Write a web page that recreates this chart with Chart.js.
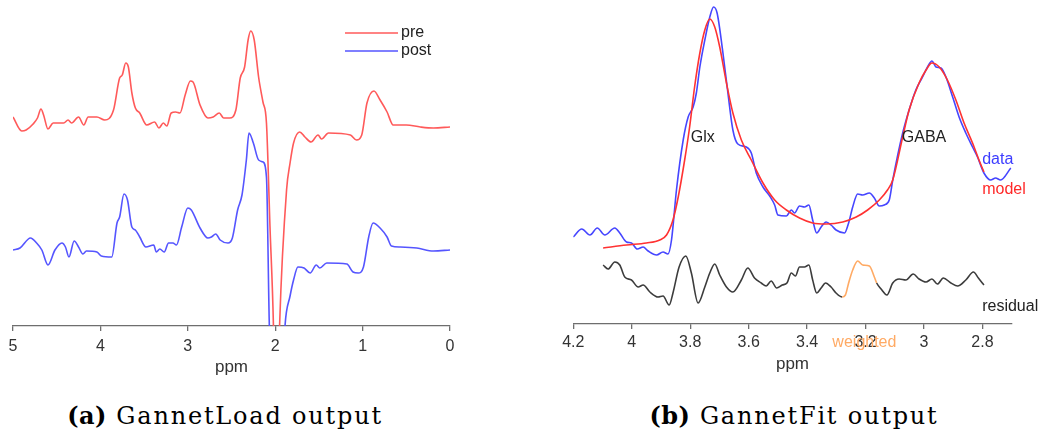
<!DOCTYPE html>
<html><head><meta charset="utf-8">
<script src="https://cdn.jsdelivr.net/npm/chart.js@4.4.1/dist/chart.umd.min.js"></script>
<style>
html,body{margin:0;padding:0;background:#fff;width:1044px;height:444px;overflow:hidden;position:relative;}
#cA{position:absolute;left:0;top:0;}
#cB{position:absolute;left:540px;top:0;}
.cap{position:absolute;top:404px;font-family:"DejaVu Serif",serif;font-size:24px;line-height:24px;letter-spacing:1.8px;color:#000;white-space:nowrap;transform:translateX(-50%);}
.cap b{letter-spacing:0.5px;}
</style></head>
<body>
<canvas id="cA" width="470" height="390"></canvas>
<canvas id="cB" width="504" height="390"></canvas>
<div class="cap" style="left:225px"><b>(a)</b> GannetLoad output</div>
<div class="cap" style="left:794px"><b>(b)</b> GannetFit output</div>
<script>
// ---------- Panel (a): GannetLoad output ----------
const preLabel = 'pre';
const postLabel = 'post';
const prePpm = [5.00,4.90,4.85,4.77,4.72,4.68,4.65,4.60,4.54,4.42,4.37,4.33,4.25,4.19,4.14,4.04,3.95,3.85,3.78,3.75,3.71,3.68,3.64,3.60,3.55,3.47,3.38,3.33,3.28,3.24,3.19,3.14,3.09,3.03,2.97,2.94,2.86,2.77,2.71,2.64,2.59,2.52,2.45,2.40,2.35,2.31,2.28,2.24,2.19,2.14,2.10,2.06,2.02,1.99,1.95,1.87,1.83,1.79,1.72,1.66,1.59,1.51,1.47,1.39,1.14,1.07,1.01,0.95,0.87,0.80,0.72,0.65,0.50,0.34,0.19,0.00];
const preValues = [209,195,196,202,208,217,211,197,203,203,206,203,209,201,209,209,206,216,248,251,263,259,233,218,213,201,204,198,203,200,213,214,213,231,245,244,221,208,209,213,208,208,216,248,259,286,295,286,249,224,203,100,0,-150,0,136,163,183,194,189,184,191,187,193,191,186,191,223,235,226,214,201,201,199,198,199];
const postPpm = [5.00,4.92,4.80,4.73,4.67,4.60,4.52,4.44,4.40,4.36,4.30,4.25,4.20,4.16,4.04,3.99,3.87,3.81,3.78,3.73,3.69,3.64,3.60,3.55,3.48,3.39,3.36,3.32,3.27,3.22,3.17,3.13,3.07,3.00,2.96,2.86,2.77,2.73,2.68,2.63,2.54,2.49,2.43,2.38,2.33,2.30,2.25,2.19,2.14,2.10,2.067,2.00,1.93,1.888,1.83,1.79,1.74,1.67,1.60,1.53,1.49,1.41,1.18,1.11,1.05,0.99,0.93,0.88,0.80,0.72,0.67,0.57,0.38,0.19,0.00];
const postValues = [76,78,88,83,76,61,76,83,79,69,85,79,72,75,74,70,69,103,109,132,126,99,96,89,79,81,74,77,74,83,83,81,99,118,116,98,88,89,92,86,83,88,116,131,166,193,183,166,164,149,0,-150,-80,0,30,46,59,58,53,61,58,63,62,54,53,59,89,103,98,89,80,79,78,75,76];
const ticksA = [5,4,3,2,1,0];
const axisTitle = 'ppm';

// ---------- Panel (b): GannetFit output ----------
const dataLabel = 'data';
const modelLabel = 'model';
const residLabel = 'residual';
const weightedLabel = 'weighted';
const dataPpm = [4.200,4.171,4.143,4.118,4.092,4.058,4.041,4.018,4.001,3.981,3.961,3.944,3.915,3.893,3.876,3.864,3.847,3.824,3.807,3.790,3.779,3.767,3.750,3.733,3.720,3.708,3.688,3.671,3.654,3.637,3.608,3.591,3.574,3.551,3.528,3.511,3.500,3.471,3.454,3.443,3.426,3.409,3.394,3.381,3.367,3.352,3.335,3.318,3.301,3.272,3.258,3.244,3.227,3.210,3.187,3.170,3.153,3.136,3.119,3.107,3.073,3.051,3.028,3.005,2.988,2.973,2.959,2.942,2.925,2.902,2.880,2.857,2.834,2.817,2.795,2.772,2.755,2.738,2.703];
const dataValues = [87,95,89,96,89,96,91,82,81,75,77,73,69,72,70,84,134,184,207,217,231,257,284,307,317,311,271,231,194,180,177,171,151,137,128,119,109,108,114,111,118,117,119,104,91,97,102,99,94,91,101,117,130,129,131,126,118,119,124,144,191,214,234,247,257,263,257,256,247,227,207,191,177,167,151,144,146,144,156];
const modelPpm = [4.098,4.018,3.950,3.904,3.881,3.859,3.841,3.819,3.802,3.785,3.767,3.750,3.733,3.716,3.699,3.676,3.654,3.625,3.591,3.551,3.511,3.471,3.426,3.381,3.335,3.278,3.232,3.193,3.153,3.125,3.107,3.073,3.051,3.017,2.993,2.973,2.948,2.920,2.891,2.863,2.834,2.812,2.795];
const modelValues = [76,79,81,84,89,104,127,164,197,237,271,294,305,297,277,241,211,184,164,141,124,114,106,101,100,102,107,114,124,134,144,187,214,241,254,261,257,244,224,201,181,164,152];
const residPpm = [4.098,4.081,4.058,4.041,4.024,4.001,3.978,3.961,3.938,3.910,3.893,3.872,3.859,3.838,3.815,3.796,3.773,3.750,3.733,3.716,3.699,3.676,3.654,3.625,3.603,3.580,3.557,3.540,3.523,3.504,3.485,3.469,3.454,3.440,3.426,3.409,3.394,3.381,3.367,3.352,3.337,3.318,3.301,3.280,3.269,3.258,3.244,3.227,3.210,3.187,3.170,3.162,3.147,3.127,3.107,3.085,3.062,3.037,3.017,2.993,2.973,2.954,2.934,2.908,2.885,2.857,2.831,2.814,2.795];
const residValues = [59,55,62,59,47,44,37,39,32,27,28,19,31,57,68,51,21,37,51,60,49,37,32,44,56,46,41,38,43,36,39,41,51,48,57,57,59,44,31,36,41,37,31,27,29,41,54,63,59,58,47,41,35,29,41,45,44,50,45,42,45,40,46,41,38,44,52,46,39];
const weightedRange = [3.280, 3.162];
const ticksB = [4.2,4.0,3.8,3.6,3.4,3.2,3.0,2.8];
const peakLabels = ['Glx','GABA'];
const peakLabelPpm = [3.757, 3.0];

// ---------- helpers ----------
const FONT = '"Liberation Sans", Arial, Helvetica, sans-serif';
Chart.defaults.font.family = FONT;
Chart.defaults.font.size = 16;
const pts = (xs, ys) => xs.map((x, i) => ({x, y: ys[i]}));
const AXIS = '#6e6e6e', TXT = '#333333';

function xAxis(min, max, ticks, fmt, tickPad, titlePadBottom) {
  return {
    type: 'linear', reverse: true, min, max,
    afterBuildTicks: s => { s.ticks = ticks.map(v => ({value: v})); },
    afterFit: s => { s.height = 54; },
    grid: {drawOnChartArea: false, drawTicks: true, tickLength: 5, color: AXIS, lineWidth: 1.3},
    border: {display: true, color: AXIS, width: 1.3},
    ticks: {color: TXT, padding: tickPad, font: {size: 16}, maxRotation: 0, autoSkip: false, callback: fmt},
    title: {display: true, text: axisTitle, color: TXT, font: {size: 17}, padding: {top: 0, bottom: titlePadBottom}}
  };
}

const lineDs = (label, data, color, extra) => Object.assign({
  label, data, borderColor: color, borderWidth: 1.6, pointRadius: 0,
  cubicInterpolationMode: 'monotone', fill: false
}, extra || {});

// ---------- Chart A ----------
const legendA = {
  id: 'legendA',
  afterDraw(chart) {
    const c = chart.ctx;
    c.save();
    chart.data.datasets.forEach((ds, i) => {
      const y = 33 + i * 18;
      c.strokeStyle = ds.borderColor; c.lineWidth = 1.6;
      c.beginPath(); c.moveTo(345, y); c.lineTo(398, y); c.stroke();
      c.fillStyle = '#222'; c.font = '16px ' + FONT; c.textBaseline = 'middle'; c.textAlign = 'left';
      c.fillText(ds.label, 401, y);
    });
    c.restore();
  }
};

new Chart(document.getElementById('cA'), {
  type: 'line',
  data: {datasets: [
    lineDs(preLabel, pts(prePpm, preValues), 'rgb(255,90,90)'),
    lineDs(postLabel, pts(postPpm, postValues), 'rgb(85,85,255)')
  ]},
  options: {
    responsive: false, animation: false, devicePixelRatio: 1,
    layout: {padding: {left: 13, right: 20, top: 10, bottom: 10}},
    plugins: {legend: {display: false}, tooltip: {enabled: false}},
    scales: {
      x: xAxis(0, 5, ticksA, v => String(v), 6, 2),
      y: {display: false, min: 0, max: 316}
    }
  },
  plugins: [legendA]
});

// ---------- Chart B ----------
const labelsB = {
  id: 'labelsB',
  afterDraw(chart) {
    const c = chart.ctx, xs = chart.scales.x, ys = chart.scales.y;
    const items = [
      {t: peakLabels[0], x: peakLabelPpm[0], y: 186, col: '#222', al: 'center'},
      {t: peakLabels[1], x: peakLabelPpm[1], y: 186, col: '#222', al: 'center'},
      {t: dataLabel, x: 2.801, y: 164, col: 'rgb(60,60,255)', al: 'left'},
      {t: modelLabel, x: 2.801, y: 134, col: 'rgb(255,40,40)', al: 'left'},
      {t: residLabel, x: 2.801, y: 17, col: '#222', al: 'left'},
      {t: weightedLabel, x: 3.204, y: -19, col: 'rgb(255,170,100)', al: 'center'}
    ];
    c.save();
    c.font = '16px ' + FONT; c.textBaseline = 'middle';
    items.forEach(it => {
      c.fillStyle = it.col; c.textAlign = it.al;
      c.fillText(it.t, xs.getPixelForValue(it.x), ys.getPixelForValue(it.y));
    });
    c.restore();
  }
};

const inWeighted = ctx => ctx.p0.parsed.x <= weightedRange[0] + 1e-9 && ctx.p1.parsed.x >= weightedRange[1] - 1e-9;

new Chart(document.getElementById('cB'), {
  type: 'line',
  data: {datasets: [
    lineDs(residLabel, pts(residPpm, residValues), 'rgb(60,60,60)', {
      segment: {borderColor: ctx => inWeighted(ctx) ? 'rgb(255,170,100)' : undefined}
    }),
    lineDs(modelLabel, pts(modelPpm, modelValues), 'rgb(255,50,50)'),
    lineDs(dataLabel, pts(dataPpm, dataValues), 'rgb(70,70,255)')
  ]},
  options: {
    responsive: false, animation: false, devicePixelRatio: 1,
    layout: {padding: {left: 33.3, right: 32.3, top: 4, bottom: 12}},
    plugins: {legend: {display: false}, tooltip: {enabled: false}},
    scales: {
      x: xAxis(2.7, 4.2, ticksB, v => String(+(+v).toFixed(1)), 4, 3),
      y: {display: false, min: 0, max: 320}
    }
  },
  plugins: [labelsB]
});
</script>
</body></html>
